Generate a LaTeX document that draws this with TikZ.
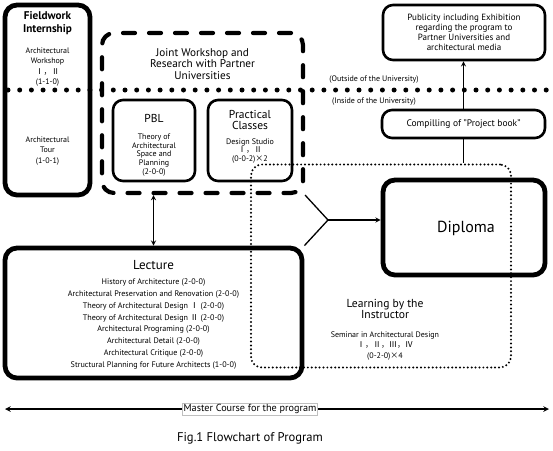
\documentclass[tikz,border=0pt]{standalone}
\usepackage{fontspec}
\setmainfont{PT Sans}
\newfontfamily\cjk{Noto Sans CJK JP}
\usetikzlibrary{arrows, positioning}
\newcommand{\jp}[1]{{\cjk #1}}

\begin{document}
\begin{tikzpicture}[
            > = stealth, % arrow head style
            x = 1pt, y = -1pt, % pixel grid, y runs down
            semithick % line style
        ]

        \tikzstyle{every node}=[inner sep = 0pt, align = center]
        \tikzstyle{heavy box}=[
            draw = black,
            line width = 4.8pt,
            rounded corners = 12pt
        ]
        \tikzstyle{plain box}=[
            draw = black,
            line width = 2.6pt,
            rounded corners = 10pt
        ]
        \tikzstyle{joint box}=[
            draw = black,
            line width = 4.2pt,
            rounded corners = 12pt,
            line cap = round,
            dash pattern = on 12pt off 14pt
        ]
        \tikzstyle{seminar box}=[
            draw = black,
            line width = 2.2pt,
            rounded corners = 11pt,
            line cap = round,
            dash pattern = on 0pt off 3.9pt
        ]
        \tikzstyle{campus line}=[
            line width = 5pt,
            line cap = round,
            dash pattern = on 0pt off 11.7pt
        ]
        \tikzstyle{tiny}=[font = \fontsize{8}{10.6}\selectfont]
        \tikzstyle{title}=[font = \fontsize{11.2}{11.2}\selectfont]

        \useasboundingbox (0,0) rectangle (553,450);

        % boxes
        \node[seminar box, minimum width = 260pt, minimum height = 203pt] (learn) at (381,266) {};
        \node[heavy box, minimum width = 85pt, minimum height = 190pt] (field) at (47.5,100) {};
        \node[joint box, minimum width = 201pt, minimum height = 160pt] (joint) at (202.5,113) {};
        \node[plain box, minimum width = 82pt, minimum height = 81pt] (pbl) at (154,140.5) {};
        \node[plain box, minimum width = 84pt, minimum height = 81pt] (prac) at (250,140.5) {};
        \node[plain box, minimum width = 162pt, minimum height = 55pt] (pub) at (464,32.5) {};
        \node[plain box, minimum width = 163pt, minimum height = 28pt] (comp) at (463.5,124) {};
        \node[heavy box, minimum width = 162pt, minimum height = 95pt] (dip) at (464,227.5) {};
        \node[heavy box, minimum width = 297pt, minimum height = 130pt] (lect) at (153.5,313) {};

        % inside / outside of the university
        \coordinate (divl) at (8,90);
        \coordinate (divr) at (553,90);
        \draw[campus line] (divl) -- (divr);
        \node[tiny] (outside) at (374,80) {(Outside of the University)};
        \node[tiny] (inside) [below = 13pt of outside] {(Inside of the University)};

        % texts
        \node[font = \bfseries\fontsize{11.2}{12.5}\selectfont] (fieldt) at (47.5,23) {Fieldwork\\Internship};
        \node[tiny] (workshop) at (47.5,67) {Architectural\\Workshop\\\jp{Ⅰ，Ⅱ}\\(1-1-0)};
        \node[tiny] (tour) at (47.5,151) {Architectural\\Tour\\(1-0-1)};

        \node[title] (jointt) at (202.5,64) {Joint Workshop and\\Research with Partner\\Universities};
        \node[title, font = \fontsize{11.5}{11}\selectfont] (pblt) at (pbl |- 0,118) {PBL};
        \node[tiny, font = \fontsize{8}{8.6}\selectfont] (pblx) at (pbl |- 0,155) {Theory of\\Architectural\\Space and\\Planning\\(2-0-0)};
        \node[title, font = \fontsize{11.5}{11}\selectfont] (pract) at (prac |- 0,120) {Practical\\Classes};
        \node[tiny, font = \fontsize{8}{8.6}\selectfont] (pracx) at (prac |- 0,151) {Design Studio\\\jp{Ⅰ，Ⅱ}\\(0-0-2)\jp{×}2};

        \node[font = \fontsize{9}{10}\selectfont] (pubt) at (pub) {Publicity including Exhibition\\regarding the program to\\Partner Universities and\\architectural media};
        \node[font = \fontsize{9.5}{10}\selectfont] (compt) at (comp) {Compilling of "Project book"};
        \node[font = \fontsize{16}{18}\selectfont] (dipt) at (466,228) {Diploma};

        \node[font = \fontsize{13}{13}\selectfont] (lectt) at (lect |- 0,265) {Lecture};
        \node[font = \fontsize{8.1}{11.8}\selectfont] (lectx) at (lect |- 0,324) {History of Architecture (2-0-0)\\
            Architectural Preservation and Renovation (2-0-0)\\
            Theory of Architectural Design \jp{Ⅰ} (2-0-0)\\
            Theory of Architectural Design \jp{Ⅱ} (2-0-0)\\
            Architectural Programing (2-0-0)\\
            Architectural Detail (2-0-0)\\
            Architectural Critique (2-0-0)\\
            Structural Planning for Future Architects (1-0-0)};

        \node[font = \fontsize{11.6}{10}\selectfont] (learnt) at (385,309) {Learning by the\\Instructor};
        \node[font = \fontsize{8}{10.4}\selectfont] (learnx) at (385,346) {Seminar in Architectural Design\\\jp{Ⅰ，Ⅱ，Ⅲ，Ⅳ}\\(0-2-0)\jp{×}4};

        % connectors
        \coordinate (fork) at (328,220);
        \draw[line width = 1.3pt] (joint.south east) -- (fork);
        \draw[line width = 1.3pt] (lect.north east) -- (fork);
        \draw[->, line width = 1.3pt] (fork) -- (fork -| dip.west);
        \draw[<->, line width = 1.3pt] (lect.north |- joint.south) -- (lect.north);
        \draw[->, line width = 1.3pt] (comp.north) -- (comp.north |- pub.south);
        \draw[line width = 1.3pt] (comp.south) -- (comp.south |- learn.north);

        % master course
        \coordinate (mcl) at (5,409);
        \coordinate (mcr) at (549,409);
        \draw[<->, line width = 1.5pt] (mcl) -- (mcr);
        \node[fill = white, draw = black!25, thin, inner sep = 1pt, font = \fontsize{10.2}{11}\selectfont] (master) at (250,409) {Master Course for the program};
        \node[font = \fontsize{12.6}{14}\selectfont] (caption) at (250,438) {Fig.1 Flowchart of Program};
    \end{tikzpicture}
\end{document}
